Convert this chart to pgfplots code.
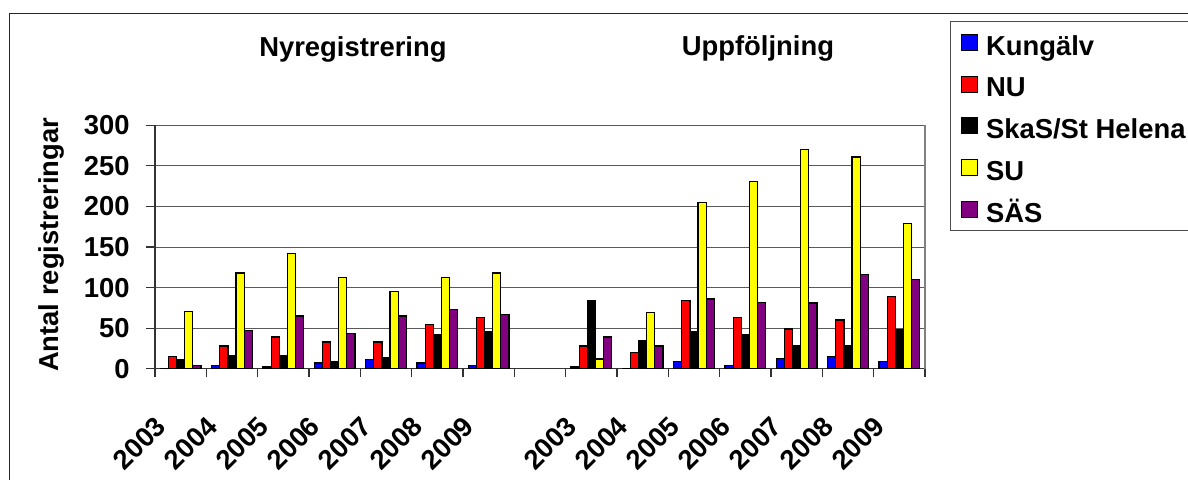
\documentclass[border=0pt]{standalone}
\usepackage{pgfplots}
\pgfplotsset{compat=1.18}
\usepackage{pgfplotstable}
\usepackage{fontspec}
\setmainfont{Liberation Sans}
\newcommand\cf{\fontsize{13.7}{16.4}\selectfont\bfseries}
\definecolor{cblue}{RGB}{0,0,255}
\definecolor{cred}{RGB}{255,0,0}
\definecolor{cyellow}{RGB}{255,255,0}
\definecolor{cpurple}{RGB}{128,0,128}
% x: 0-6 Nyregistrering 2003-2009, 8-14 Uppfoljning 2003-2009
\pgfplotstableread{
x kung nu skas su sas
0 0 15 11 71 4
1 4 28 16 118 47
2 2 39 16 142 65
3 7 33 9 112 43
4 11 33 14 95 65
5 7 54 42 112 73
6 4 63 46 118 67
8 2 28 84 12 39
9 0 20 35 69 28
10 9 84 46 205 86
11 4 63 42 231 82
12 13 49 28 270 81
13 15 60 28 261 116
14 9 89 48 179 110
}\datatable
\begin{document}
\begin{tikzpicture}
\useasboundingbox (0,0) rectangle (594pt,239.5pt);
\clip (0,0) rectangle (594pt,239.5pt);
\draw[black!85, line width=0.6pt] (4.75pt,-1pt) -- (4.75pt,232.75pt) -- (600pt,232.75pt);
\begin{axis}[
  at={(77.5pt,55.15pt)}, anchor=south west,
  scale only axis, width=385pt, height=121.7pt,
  xmin=-0.5, xmax=14.5, ymin=0, ymax=300,
  clip=false,
  axis x line*=bottom, axis y line*=left,
  axis line style={black!80, line width=0.6pt},
  ytick={0,50,...,300},
  ymajorgrids, major grid style={black!65, line width=0.5pt},
  xtick={0,...,14},
  xticklabels={2003,2004,2005,2006,2007,2008,2009,{},2003,2004,2005,2006,2007,2008,2009},
  minor xtick={-0.5,0.5,...,14.5},
  tick align=outside,
  major x tick style={draw=none},
  minor x tick style={black!80, line width=0.6pt},
  major y tick style={black!80, line width=0.6pt},
  major tick length=4.5pt, minor tick length=4pt,
  /pgf/number format/assume math mode=true,
  tick label style={font=\cf},
  yticklabel style={inner sep=0pt, anchor=east, xshift=-8pt},
  xticklabel style={xshift=-13.3pt, yshift=-18.3pt, rotate=45, anchor=north east, inner sep=0pt},
  ylabel={Antal registreringar},
  ylabel style={at={(axis description cs:-0.134,0.509)}, anchor=center, font=\cf},
  legend style={at={(axis description cs:1.0325,1.4298)}, anchor=north west,
    draw=black!70, line width=0.6pt, font=\cf, inner xsep=5pt, inner ysep=2pt,
    row sep=3.9pt,
    nodes={inner sep=0pt, text height=14.9pt, text depth=2.1pt},
    /tikz/every odd column/.append style={column sep=4pt}},
  legend cell align=left,
  legend image code/.code={\draw[#1, line width=0.5pt] (0pt,-4pt) rectangle (8.2pt,4pt);},
]
\addplot[ybar, bar width=0.158, bar shift=-0.316, fill=cblue, draw=black, line width=0.6pt] table[x=x, y=kung] {\datatable};
\addlegendentry{Kungälv}
\addplot[ybar, bar width=0.158, bar shift=-0.158, fill=cred, draw=black, line width=0.6pt] table[x=x, y=nu] {\datatable};
\addlegendentry{NU}
\addplot[ybar, bar width=0.158, bar shift=0, fill=black, draw=black, line width=0.6pt] table[x=x, y=skas] {\datatable};
\addlegendentry{SkaS/St Helena}
\addplot[ybar, bar width=0.158, bar shift=0.158, fill=cyellow, draw=black, line width=0.6pt] table[x=x, y=su] {\datatable};
\addlegendentry{SU}
\addplot[ybar, bar width=0.158, bar shift=0.316, fill=cpurple, draw=black, line width=0.6pt] table[x=x, y=sas] {\datatable};
\addlegendentry{SÄS}
\draw[black!50, line width=0.8pt] (rel axis cs:1,0) -- (rel axis cs:1,1);
\node[font=\cf] at (axis description cs:0.257,1.311) {Nyregistrering};
\node[font=\cf] at (axis description cs:0.783,1.316) {Uppföljning};
\end{axis}
\end{tikzpicture}
\end{document}
